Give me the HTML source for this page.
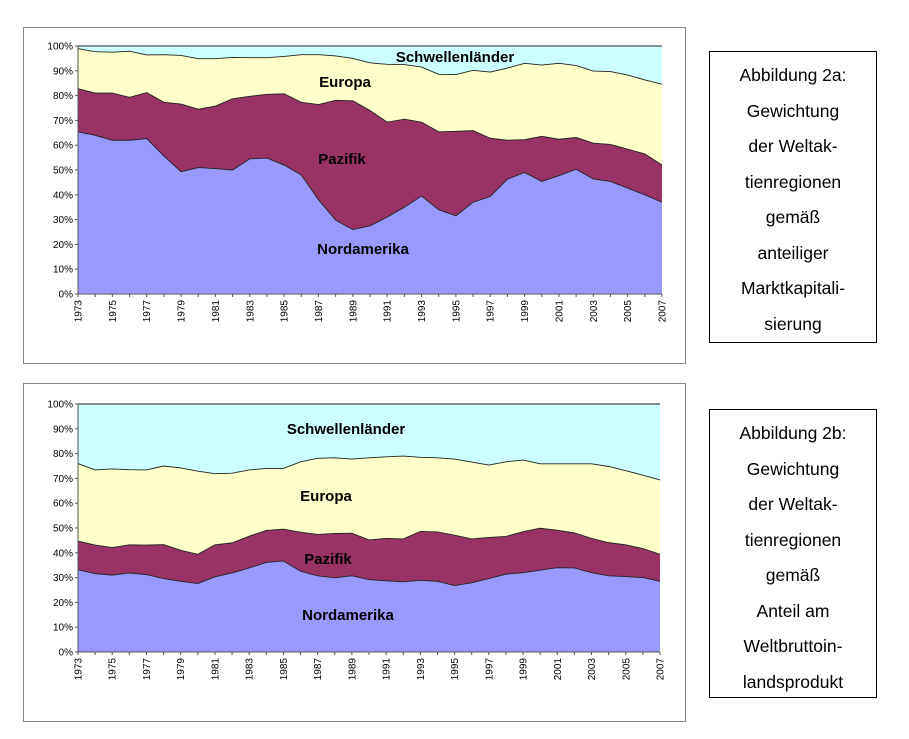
<!DOCTYPE html>
<html><head><meta charset="utf-8">
<style>
body{margin:0;background:#fff;width:909px;height:739px;position:relative;overflow:hidden;font-family:"Liberation Sans",sans-serif}
.frame{position:absolute;border:1px solid #888;background:#fff}
.box{position:absolute;border:1.5px solid #000;text-align:center;font-size:17.5px;line-height:35.5px;color:#000;box-sizing:border-box;padding-top:6px}
svg{position:absolute;left:0;top:0}
</style></head><body>
<div class="frame" style="left:23px;top:27px;width:661px;height:335px"></div>
<div class="frame" style="left:23px;top:383px;width:661px;height:337px"></div>
<div class="box" style="left:709px;top:51px;width:168px;height:292px">Abbildung 2a:<br>Gewichtung<br>der Weltak-<br>tienregionen<br>gemäß<br>anteiliger<br>Marktkapitali-<br>sierung</div>
<div class="box" style="left:709px;top:409px;width:168px;height:289px">Abbildung 2b:<br>Gewichtung<br>der Weltak-<br>tienregionen<br>gemäß<br>Anteil am<br>Weltbruttoin-<br>landsprodukt</div>
<svg id="svg" width="909" height="739"></svg>
<script>
const years=[];for(let y=1973;y<=2007;y++)years.push(y);
const yTicks=[0,10,20,30,40,50,60,70,80,90,100];
// Chart 2a cumulative boundaries (%)
const a_nordamerika=[65.4,64,62,62,62.7,55.7,49.3,51,50.6,50,54.5,54.8,52,48,38,29.8,26,27.5,31,35,39.5,34,31.5,37,39.3,46.3,49,45.4,47.7,50.3,46.4,45.4,42.7,40,37];
const a_bisPazifik=[82.8,81,81,79.3,81.2,77.3,76.6,74.5,75.8,78.7,79.7,80.5,80.7,77.3,76.4,78.1,77.9,74,69.3,70.5,69.3,65.4,65.6,65.9,62.8,62,62.2,63.6,62.4,63.1,60.8,60.3,58.4,56.5,52];
const a_bisEuropa=[98.9,97.7,97.5,97.9,96.4,96.5,96.2,94.9,94.9,95.4,95.3,95.3,95.8,96.5,96.5,96,95,93.2,92.6,92.5,91.5,88.6,88.5,90.2,89.5,91.1,93,92.3,93,92.1,89.9,89.7,88.3,86.3,84.6];
// Chart 2b cumulative boundaries (%)
const b_nordamerika=[33.2,31.6,31,31.9,31.2,29.6,28.5,27.6,30.3,31.9,33.9,36.1,36.7,32.6,30.7,29.9,30.7,29.2,28.7,28.3,28.9,28.5,26.8,27.9,29.6,31.4,32,33,34,33.9,32,30.7,30.4,30,28.5];
const b_bisPazifik=[44.7,43.1,42.1,43.2,43.1,43.3,41,39.4,43.2,44,46.7,49,49.5,48.3,47.4,47.8,47.9,45.2,45.8,45.6,48.6,48.4,47.1,45.6,46.2,46.6,48.5,49.9,49.1,48,45.8,44.1,43.2,41.7,39.4];
const b_bisEuropa=[76,73.4,73.8,73.5,73.4,75,74.2,72.9,71.9,72.1,73.4,74,74,76.7,78.1,78.3,77.8,78.3,78.7,79,78.5,78.3,77.8,76.6,75.4,76.7,77.4,75.9,75.9,75.9,75.9,74.8,73.1,71.3,69.4];
const svg=document.getElementById('svg');const NS='http://www.w3.org/2000/svg';
function mk(t,at,p){const e=document.createElementNS(NS,t);for(const k in at)e.setAttribute(k,at[k]);(p||svg).appendChild(e);return e;}
function chart(id,x0,x1,y0,y1,series,labels){
  const g=mk('g',{});
  
  
  const X=i=>x0+(x1-x0)*i/(years.length-1);
  const Y=v=>y0-(y0-y1)*v/100;
  const full=years.map(()=>100),zero=years.map(()=>0);
  const layers=[[zero,series[0],'#9999ff','area-nordamerika'],[series[0],series[1],'#993366','area-pazifik'],[series[1],series[2],'#ffffcc','area-europa'],[series[2],full,'#ccffff','area-schwellenlaender']];
  layers.forEach(([lo,hi,c,n])=>{
    let d='M'+hi.map((v,i)=>X(i)+','+Y(v)).join('L');
    for(let i=lo.length-1;i>=0;i--)d+='L'+X(i)+','+Y(lo[i]);
    const p=mk('path',{d:d+'Z',fill:c,stroke:'none'},g);
    
    
  });
  series.concat([full]).forEach(s=>{
    const l=mk('polyline',{points:s.map((v,i)=>X(i)+','+Y(v)).join(' '),fill:'none',stroke:'#222','stroke-width':0.9},g);
    
    
  });
  mk('line',{x1:x0,y1:y0,x2:x0,y2:y1,stroke:'#555'},g);
  mk('line',{x1:x0,y1:y0,x2:x1,y2:y0,stroke:'#555'},g);
  yTicks.forEach(t=>{
    mk('line',{x1:x0-3,x2:x0,y1:Y(t),y2:Y(t),stroke:'#555'},g);
    const tx=mk('text',{x:x0-5,y:Y(t)+3.5,'font-size':10,'text-anchor':'end',fill:'#000'},g);tx.textContent=t+'%';
    
    
  });
  years.forEach((yr,i)=>{
    mk('line',{x1:X(i),x2:X(i),y1:y0,y2:y0+3,stroke:'#555'},g);
    if(i%2===0){const tx=mk('text',{x:0,y:0,'font-size':10,'text-anchor':'end',fill:'#000',transform:`translate(${X(i)+3.5},${y0+6}) rotate(-90)`},g);tx.textContent=yr;
    
    }
  });
  labels.forEach(([t,x,y])=>{const tx=mk('text',{x:x,y:y,'font-size':15,'font-weight':'bold','text-anchor':'middle',fill:'#000'},g);tx.textContent=t;
    
    });
}
chart('chart-2a',78,662,294,46,[a_nordamerika,a_bisPazifik,a_bisEuropa],[['Schwellenländer',455,62],['Europa',345,87],['Pazifik',342,164],['Nordamerika',363,254]]);
chart('chart-2b',78,660,652,404,[b_nordamerika,b_bisPazifik,b_bisEuropa],[['Schwellenländer',346,434],['Europa',326,501],['Pazifik',328,564],['Nordamerika',348,620]]);
</script>
</body></html>
